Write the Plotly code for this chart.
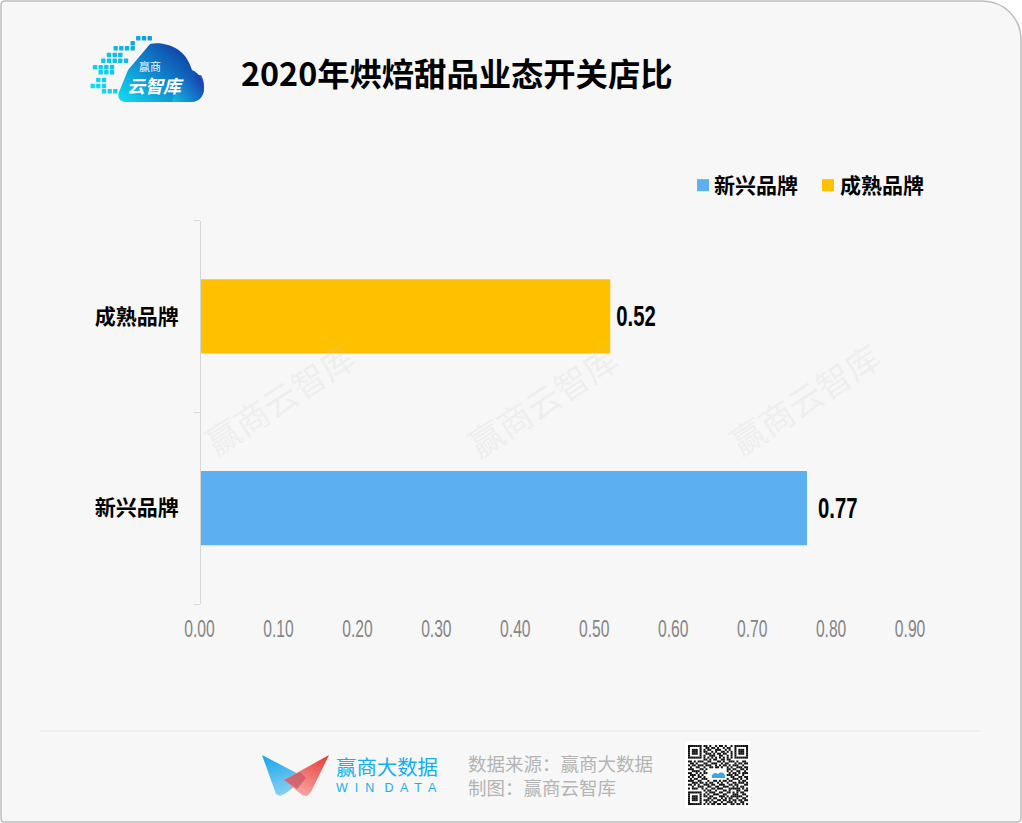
import base64
import plotly.graph_objects as go

W, H = 1022, 823
title = "2020年烘焙甜品业态开关店比"
emerging_name = "新兴品牌"
mature_name = "成熟品牌"
emerging_value = [0.77]
mature_value = [0.52]
x_ticks = [0.0, 0.1, 0.2, 0.3, 0.4, 0.5, 0.6, 0.7, 0.8, 0.9]
x_tick_labels = ["0.00", "0.10", "0.20", "0.30", "0.40", "0.50", "0.60", "0.70", "0.80", "0.90"]
source_lines = ["数据来源：赢商大数据", "制图：赢商云智库"]
watermark = "赢商云智库"

CJK = "Noto Sans CJK SC"
LATIN = "Liberation Sans"


def px(x):
    return x / W


def py(y):
    return 1 - y / H


def P(x, y):
    return f"{px(x):.5f},{py(y):.5f}"


# ---------- decorative logos as inline SVG ----------
dots = [
    (55, [235, 252, 269]), (70, [218]), (85, [167, 184, 201, 218]),
    (105, [147, 164, 181]), (122, [130, 147, 164, 181, 198]),
    (142, [105, 122, 139, 156]), (157, [122, 139, 156]),
    (180, [115, 132]), (198, [98, 115, 132]), (214, [132, 149, 166]),
]
dot_svg = ""
for zy, xs in dots:
    for zx in xs:
        x = 60 + zx / 3
        y = 20 + zy / 3
        dot_svg += f'<rect x="{x-2.2:.1f}" y="{y-2.2:.1f}" width="4.4" height="4.4" rx="0.6" fill="url(#dots)"/>'

qr_rows = [
    "1111111011010010110100101111111",
    "1000001001101101001011001000001",
    "1011101010110011100101001011101",
    "1011101011001010011010101011101",
    "1011101001110101101100101011101",
    "1000001010011100110010101000001",
    "1111111010101010101010101111111",
    "0000000011010110011011000000000",
    "1101011100110001101001110100110",
    "0110100011001110010110001011011",
    "1011011101110010101101011100100",
    "0100110010011011010010100111011",
    "1110001101000000000011011001101",
    "0011110010000000000010100110010",
    "1100101011000000000001011010111",
    "0111010100000000000011101100100",
    "1010011010000000000000110011011",
    "0101100111000000000010011101001",
    "1110011000100110101101100010110",
    "0011101101011001010010011011101",
    "1101010011101100111001101100011",
    "0010011100110011001110010101100",
    "1011100101001101110001111110101",
    "0000000010110010001101000110011",
    "1111111001011100110011010101100",
    "1000001010100111001100011100110",
    "1011101011011000111010111111001",
    "1011101000110110010101100100110",
    "1011101011101001101101011011011",
    "1000001001010110010011101001100",
    "1111111010101101101100110110101",
]
qr_svg = '<rect x="685" y="741" width="66" height="67" fill="#ffffff"/>'
m = 60 / len(qr_rows)
for r, row in enumerate(qr_rows):
    for c, v in enumerate(row):
        if v == "1":
            qr_svg += f'<rect x="{688+c*m:.2f}" y="{745+r*m:.2f}" width="{m+0.05:.2f}" height="{m+0.05:.2f}" fill="#111111"/>'
qr_svg += '<path d="M712 778 C711 773 716 772 718 774 C721 771 726 773 725 778 Z" fill="#3fa6e0"/>'

svg = f'''<svg xmlns="http://www.w3.org/2000/svg" width="{W}" height="{H}" viewBox="0 0 {W} {H}">
<defs>
<linearGradient id="cloud" x1="0" y1="1" x2="1" y2="0.2"><stop offset="0" stop-color="#0fe0f2"/><stop offset="0.5" stop-color="#0f86cf"/><stop offset="1" stop-color="#10309a"/></linearGradient>
<linearGradient id="cloud2" x1="0" y1="1" x2="1" y2="0.4"><stop offset="0" stop-color="#12c8ea"/><stop offset="1" stop-color="#1a3fb0"/></linearGradient>
<linearGradient id="dots" gradientUnits="userSpaceOnUse" x1="90" y1="100" x2="160" y2="40"><stop offset="0" stop-color="#0fe6f5"/><stop offset="1" stop-color="#1197d8"/></linearGradient>
<linearGradient id="blue" x1="0" y1="0" x2="0.3" y2="1"><stop offset="0" stop-color="#11a5ea"/><stop offset="1" stop-color="#86cff2"/></linearGradient>
<linearGradient id="red" x1="0.9" y1="0" x2="0.4" y2="1"><stop offset="0" stop-color="#e8332a"/><stop offset="1" stop-color="#f5a3a0"/></linearGradient>
</defs>
<path d="M126 102 C119 102 117 96 119 92 L128 70 L150 44 C158 42 172 44 181 52 C187 57 190 64 192 70 C199 73 204 80 204 88 C204 97 198 102 191 102 Z" fill="url(#cloud)"/>
<path d="M172 102 C176 86 186 74 201 75 C204 80 204 84 204 88 C204 97 198 102 191 102 Z" fill="url(#cloud2)" opacity="0.8"/>
{dot_svg}
<polygon points="262,755 306,778 286,793 280,796 276,794" fill="url(#blue)"/>
<polygon points="329,755 311,792 307,796 302,795 284,780" fill="url(#red)" opacity="0.95"/>
<polygon points="284,780 300,772 306,778 297,789" fill="#c55a6a" opacity="0.75"/>
{qr_svg}
</svg>'''
logo_uri = "data:image/svg+xml;base64," + base64.b64encode(svg.encode()).decode()

# ---------- frame ----------
frame = (
    f"M {P(5,1)} L {P(982,1)} C {P(1004,1)} {P(1021,18)} {P(1021,40)} "
    f"L {P(1021,818)} C {P(1021,821)} {P(1020,822)} {P(1017,822)} "
    f"L {P(5,822)} C {P(2,822)} {P(1,821)} {P(1,818)} L {P(1,5)} C {P(1,2)} {P(2,1)} {P(5,1)} Z"
)

fig = go.Figure()
for name, vals, col in [(emerging_name, emerging_value, "#5cb0f2"), (mature_name, mature_value, "#ffc000")]:
    fig.add_trace(go.Bar(
        name=name, y=[name], x=vals, orientation="h",
        marker=dict(color=col, line=dict(width=0)),
        text=[f"{v:.2f}" for v in vals], textposition="outside", cliponaxis=False,
        textfont=dict(family=LATIN, size=29, color="#000000", weight="bold"),
    ))

annotations = [
    dict(text=f"<b>{title}</b>", x=px(239), y=py(72), xanchor="left", yanchor="middle",
         font=dict(family=CJK, size=32.3, color="#000000")),
    dict(text="赢商", x=px(150), y=py(66), xanchor="center", yanchor="middle",
         font=dict(family=CJK, size=11, color="#e8f6fd")),
    dict(text="<b><i>云智库</i></b>", x=px(155), y=py(85), xanchor="center", yanchor="middle",
         font=dict(family=CJK, size=18, color="#ffffff")),
    dict(text="赢商大数据", x=px(334), y=py(768), xanchor="left", yanchor="middle",
         font=dict(family=f"{LATIN}, {CJK}", size=20.4, color="#15aeef")),
    dict(text="W  I  N   D  A  T  A", x=px(334), y=py(788), xanchor="left", yanchor="middle",
         font=dict(family=LATIN, size=12.5, color="#15aeef")),
    dict(text="<br>".join(source_lines), x=px(466), y=py(774.5), xanchor="left", yanchor="middle", align="left",
         font=dict(family=CJK, size=18.5, color="#b4b4b4")),
]
for cx, cy in [(279, 398), (542, 400), (804, 398)]:
    annotations.append(dict(text=watermark, x=px(cx), y=py(cy), xanchor="center", yanchor="middle",
                            textangle=-33, font=dict(family=CJK, size=34, color="rgba(200,200,200,0.2)")))
for a in annotations:
    a.update(xref="paper", yref="paper", showarrow=False)

fig.update_layout(
    width=W, height=H, autosize=False,
    margin=dict(l=0, r=0, t=0, b=0, autoexpand=False),
    paper_bgcolor="#ffffff", plot_bgcolor="rgba(0,0,0,0)",
    barmode="overlay", bargap=0.614, showlegend=True,
    legend=dict(orientation="h", x=px(676), y=py(185.5), xanchor="left", yanchor="middle",
                bgcolor="rgba(0,0,0,0)", font=dict(family=CJK, size=21, color="#000000", weight="bold"),
                itemwidth=30, traceorder="normal"),
    xaxis=dict(domain=[px(201), px(909.3)], range=[0, 0.9], tickvals=x_ticks, ticktext=x_tick_labels,
               showgrid=False, zeroline=False, showline=False, ticks="", ticklabelstandoff=9,
               tickfont=dict(family=LATIN, size=23, color="#858585")),
    yaxis=dict(domain=[py(604), py(220.5)], type="category", categoryorder="array",
               categoryarray=[emerging_name, mature_name], showgrid=False, zeroline=False,
               showline=True, linecolor="#d6d6d6", linewidth=1, ticks="outside", ticklen=6,
               tickcolor="#d6d6d6", tickson="boundaries", ticklabelstandoff=17,
               tickfont=dict(family=CJK, size=21, color="#000000", weight="bold")),
    shapes=[
        dict(type="path", path=frame, xref="paper", yref="paper", layer="below",
             fillcolor="#f7f7f7", line=dict(color="#bdbdbd", width=1.5)),
        dict(type="line", xref="paper", yref="paper", x0=px(40), x1=px(980), y0=py(731), y1=py(731),
             line=dict(color="#e6e6e6", width=1), layer="below"),
    ],
    images=[dict(source=logo_uri, xref="paper", yref="paper", x=0, y=1, sizex=1, sizey=1,
                 xanchor="left", yanchor="top", sizing="stretch", layer="above")],
    annotations=annotations,
)

# The reference's digits use a tall condensed face; narrow the real text horizontally,
# and tighten the legend's symbol-to-label gap, which Plotly does not expose.
post = """
document.body.style.margin='0';document.body.style.overflow='hidden';
function narrow(t, s, atLeft, dx){
  var b=t.getBBox(); var c=atLeft?b.x:b.x+b.width/2; var old=t.getAttribute('transform')||'';
  t.setAttribute('transform', old+' translate('+(c+dx)+',0) scale('+s+',1) translate('+(-c)+',0)');
}
document.querySelectorAll('.xtick text').forEach(function(t,i){ narrow(t, 0.68, false, -1.5+i*0.25); });
document.querySelectorAll('.bartext').forEach(function(t){
  narrow(t, 0.70, true, t.textContent.trim()==='0.77' ? 8 : 3);
});
var shifts=[[7,-2],[3,-5]];
document.querySelectorAll('.legend .traces').forEach(function(g,i){
  var pts=g.querySelector('.legendpoints'), txt=g.querySelector('.legendtext');
  pts.setAttribute('transform','translate('+shifts[i][0]+',0)');
  txt.setAttribute('transform','translate('+shifts[i][1]+',0)');
});
"""
fig.write_html("out.html", config={"displayModeBar": False}, post_script=post)
